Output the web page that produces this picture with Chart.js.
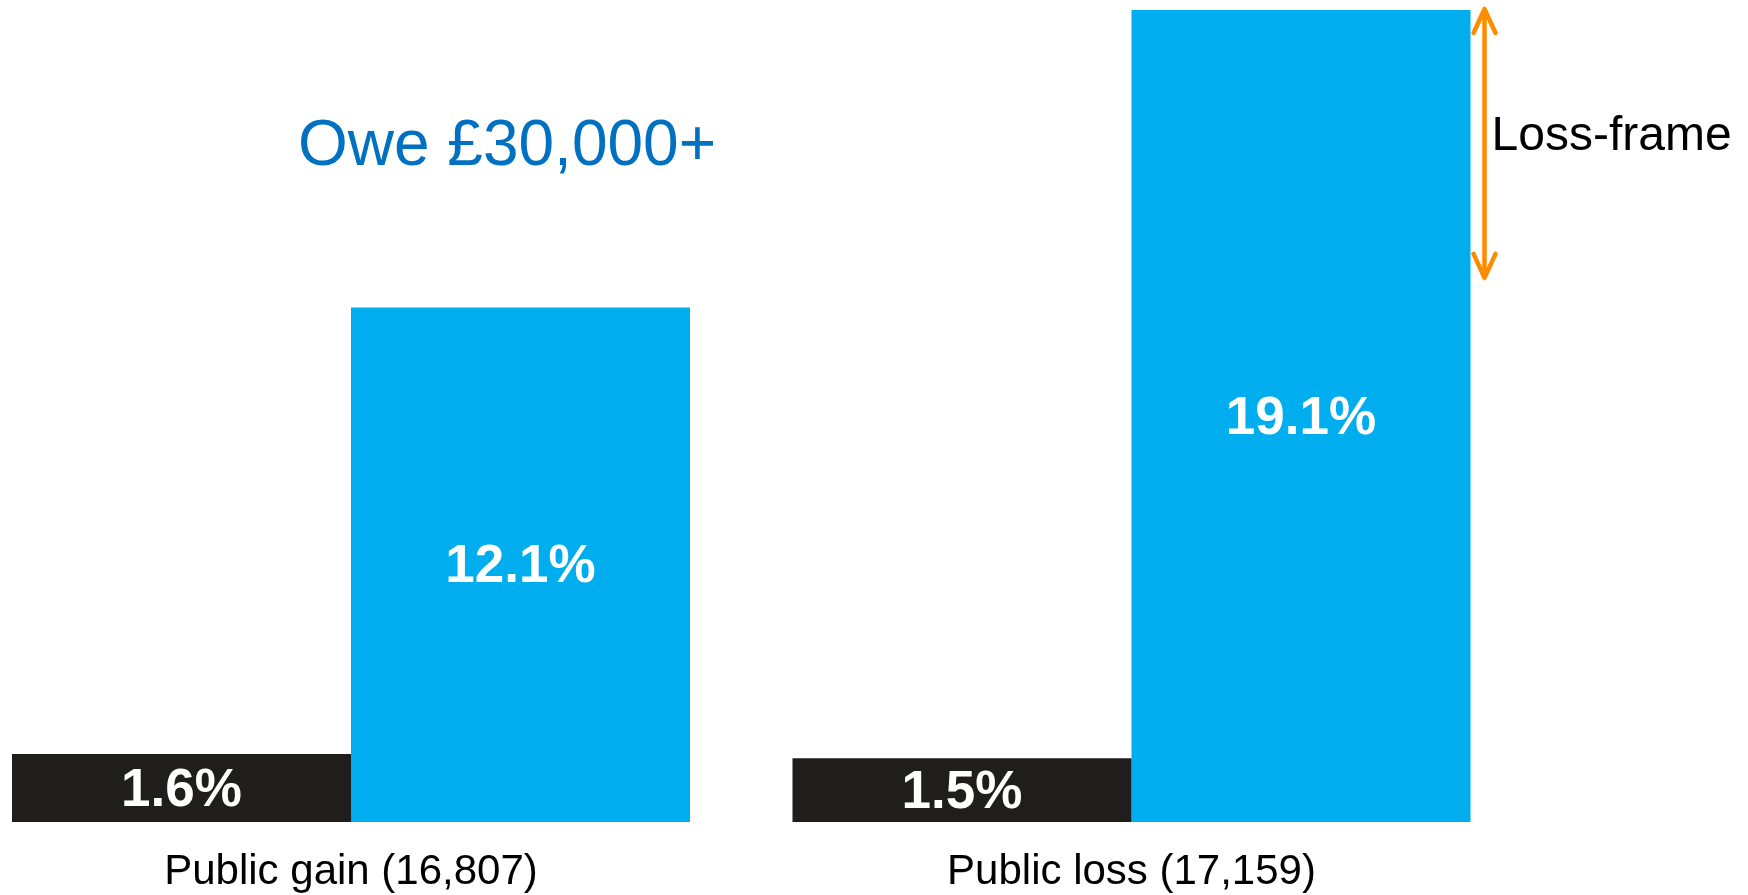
<!DOCTYPE html>
<html>
<head>
<meta charset="utf-8">
<title>Owe £30,000+</title>
<script src="https://cdn.jsdelivr.net/npm/chart.js@4/dist/chart.umd.min.js"></script>
<style>
    html, body { margin: 0; padding: 0; background: #ffffff; }
    canvas { display: block; }
</style>
</head>
<body>
<canvas id="debtChart" width="1748" height="895"></canvas>
<script>
const categories = ['Public gain (16,807)', 'Public loss (17,159)'];
const controlValues = [1.6, 1.5];
const treatmentValues = [12.1, 19.1];
const arrowRange = [19.1, 12.8];
const titleText = 'Owe £30,000+';
const arrowText = 'Loss-frame';

Chart.defaults.font.family = "'Liberation Sans', Arial, sans-serif";

const barLabels = {
    id: 'barLabels',
    afterDatasetsDraw(chart) {
        const ctx = chart.ctx;
        ctx.save();
        ctx.fillStyle = '#ffffff';
        ctx.font = "bold 53px 'Liberation Sans', Arial, sans-serif";
        ctx.textAlign = 'center';
        ctx.textBaseline = 'middle';

        chart.data.datasets.forEach((dataset, i) => {
            chart.getDatasetMeta(i).data.forEach((bar, j) => {
                const value = dataset.data[j];
                ctx.fillText(value.toFixed(1) + '%', bar.x, (bar.y + bar.base) / 2 + 3);
            });
        });
        ctx.restore();
    }
};

const annotations = {
    id: 'annotations',
    afterDraw(chart) {
        const ctx = chart.ctx;
        const yScale = chart.scales.y;
        const lastBar = chart.getDatasetMeta(1).data[1];

        ctx.save();

        // title text over the left group
        ctx.fillStyle = '#0070c0';
        ctx.font = "64px 'Liberation Sans', Arial, sans-serif";
        ctx.textAlign = 'center';
        ctx.textBaseline = 'middle';
        ctx.fillText(titleText, 507, 147);

        // double headed arrow beside the tallest bar
        const x = lastBar.x + lastBar.width / 2 + 14;
        const top = yScale.getPixelForValue(arrowRange[0]) - 1;
        const bottom = yScale.getPixelForValue(arrowRange[1]);

        ctx.strokeStyle = '#ff8c00';
        ctx.lineWidth = 4.5;
        ctx.lineCap = 'round';
        ctx.lineJoin = 'round';
        ctx.beginPath();
        ctx.moveTo(x, top);
        ctx.lineTo(x, bottom);
        ctx.moveTo(x - 11, top + 24);
        ctx.lineTo(x, top);
        ctx.lineTo(x + 11, top + 24);
        ctx.moveTo(x - 11, bottom - 24);
        ctx.lineTo(x, bottom);
        ctx.lineTo(x + 11, bottom - 24);
        ctx.stroke();

        ctx.fillStyle = '#000000';
        ctx.font = "48px 'Liberation Sans', Arial, sans-serif";
        ctx.textAlign = 'left';
        ctx.fillText(arrowText, x + 7, (top + bottom) / 2 - 7);

        ctx.restore();
    }
};

new Chart(
    document.getElementById('debtChart'),
    {
        type: 'bar',
        data: {
            labels: categories,
            datasets: [
                {
                    label: 'Control',
                    data: controlValues,
                    backgroundColor: '#1f1e1c',
                    clip: false
                },
                {
                    label: 'Treatment',
                    data: treatmentValues,
                    backgroundColor: '#00aeef',
                    clip: false
                }
            ]
        },
        options: {
            responsive: false,
            animation: false,
            layout: {
                padding: { left: 351, right: 616.5, top: 10, bottom: 2 }
            },
            datasets: {
                bar: {
                    barPercentage: 1,
                    categoryPercentage: 0.8687
                }
            },
            scales: {
                x: {
                    offset: false,
                    grid: { display: false, drawTicks: false },
                    border: { display: false },
                    afterFit(scale) {
                        scale.height = 71;
                    },
                    ticks: {
                        color: '#000000',
                        padding: 29,
                        maxRotation: 0,
                        autoSkip: false,
                        font: { size: 42, lineHeight: 1 }
                    }
                },
                y: {
                    display: false,
                    min: 0,
                    max: 19.1
                }
            },
            plugins: {
                legend: { display: false },
                tooltip: { enabled: false }
            }
        },
        plugins: [barLabels, annotations]
    }
);
</script>
</body>
</html>
